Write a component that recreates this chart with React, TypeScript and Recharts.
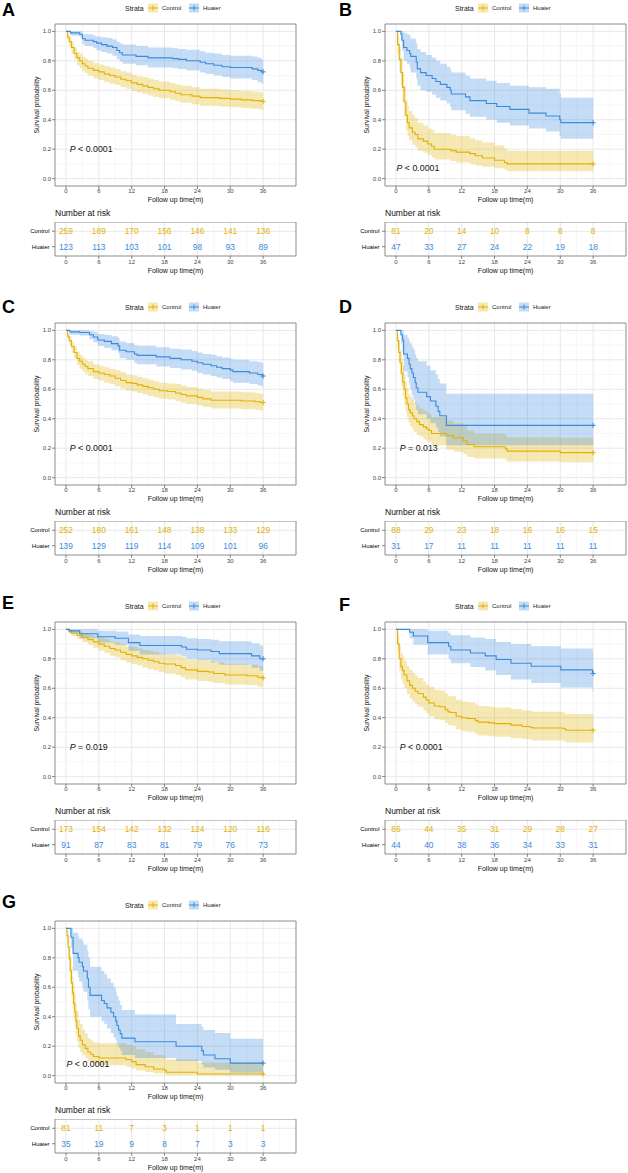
import React from "react";
import { Area, CartesianGrid, ComposedChart, Line, ReferenceArea, Scatter, XAxis, YAxis } from "recharts";

// [time (months), survival, lower CI, upper CI]
type KmPoint = [number, number, number, number];

const CONTROL = "#E2B200";
const HUAIER = "#3A8ADD";
const FONT = "'Liberation Sans', Arial, Helvetica, sans-serif";

const timeTicks = [0, 6, 12, 18, 24, 30, 36];
const timeMinor = [3, 9, 15, 21, 27, 33, 39];
const probTicks = [0, 0.2, 0.4, 0.6, 0.8, 1];
const probMinor = [0.1, 0.3, 0.5, 0.7, 0.9];
const strata = ["Control", "Huaier"];

const aControl: KmPoint[] = [
  [0, 1, 1, 1], [0.3, 0.96, 0.94, 0.98], [0.6, 0.93, 0.9, 0.96], [1, 0.89, 0.85, 0.93], [1.5, 0.85, 0.81, 0.89],
  [2, 0.82, 0.77, 0.86], [2.5, 0.8, 0.75, 0.85], [3, 0.78, 0.73, 0.83], [3.5, 0.765, 0.715, 0.815], [4, 0.75, 0.7, 0.8],
  [5, 0.735, 0.68, 0.785], [6, 0.725, 0.67, 0.775], [7, 0.71, 0.655, 0.765], [8, 0.7, 0.645, 0.755], [9, 0.69, 0.635, 0.745],
  [10, 0.675, 0.62, 0.73], [11, 0.665, 0.61, 0.72], [12, 0.65, 0.595, 0.705], [13, 0.64, 0.585, 0.695], [14, 0.63, 0.575, 0.69],
  [15, 0.62, 0.565, 0.68], [16, 0.61, 0.555, 0.67], [17, 0.6, 0.545, 0.66], [19, 0.59, 0.535, 0.65], [20, 0.58, 0.525, 0.64],
  [21, 0.57, 0.515, 0.63], [23, 0.56, 0.505, 0.62], [24.5, 0.55, 0.495, 0.61], [28, 0.545, 0.49, 0.605], [30, 0.54, 0.485, 0.6],
  [32, 0.535, 0.48, 0.595], [34, 0.53, 0.475, 0.59], [35.5, 0.525, 0.47, 0.585], [36, 0.525, 0.47, 0.585],
];
const aHuaier: KmPoint[] = [
  [0, 1, 1, 1], [0.8, 0.99, 0.97, 1], [2.5, 0.98, 0.96, 1], [3, 0.95, 0.91, 0.98], [3.5, 0.94, 0.9, 0.98],
  [5, 0.93, 0.885, 0.97], [5.6, 0.92, 0.87, 0.965], [6.5, 0.91, 0.86, 0.96], [7.5, 0.9, 0.85, 0.955], [8.5, 0.89, 0.835, 0.945],
  [9.3, 0.87, 0.81, 0.93], [9.8, 0.855, 0.795, 0.92], [10.3, 0.84, 0.78, 0.91], [12.8, 0.83, 0.77, 0.9], [15, 0.82, 0.755, 0.89],
  [19.5, 0.815, 0.75, 0.885], [20.5, 0.81, 0.745, 0.88], [22, 0.8, 0.735, 0.875], [24.5, 0.79, 0.72, 0.865], [25.5, 0.78, 0.71, 0.855],
  [27, 0.77, 0.7, 0.85], [28.5, 0.76, 0.69, 0.84], [30, 0.755, 0.68, 0.835], [34, 0.745, 0.67, 0.83], [35, 0.735, 0.655, 0.82],
  [35.7, 0.725, 0.645, 0.81], [36, 0.725, 0.645, 0.81],
];

const bControl: KmPoint[] = [
  [0, 1, 1, 1], [0.3, 0.91, 0.85, 0.97], [0.6, 0.81, 0.73, 0.9], [0.9, 0.72, 0.63, 0.82], [1.2, 0.62, 0.52, 0.72],
  [1.5, 0.52, 0.42, 0.63], [1.8, 0.43, 0.33, 0.54], [2.1, 0.38, 0.29, 0.49], [2.4, 0.345, 0.26, 0.46], [3, 0.315, 0.23, 0.43],
  [3.5, 0.3, 0.215, 0.41], [4, 0.27, 0.19, 0.38], [5, 0.255, 0.175, 0.36], [5.8, 0.235, 0.16, 0.34], [6.5, 0.22, 0.145, 0.33],
  [7, 0.2, 0.13, 0.31], [10, 0.19, 0.12, 0.3], [11, 0.18, 0.11, 0.29], [13.5, 0.17, 0.1, 0.275], [14.5, 0.155, 0.09, 0.26],
  [15.8, 0.14, 0.08, 0.245], [18, 0.125, 0.07, 0.225], [19.8, 0.11, 0.06, 0.205], [20.3, 0.1, 0.05, 0.19], [36, 0.1, 0.05, 0.19],
];
const bHuaier: KmPoint[] = [
  [0, 1, 1, 1], [0.9, 0.98, 0.94, 1], [1.1, 0.94, 0.87, 1], [1.4, 0.89, 0.8, 0.99], [2, 0.87, 0.78, 0.98],
  [2.5, 0.85, 0.75, 0.97], [2.7, 0.83, 0.72, 0.95], [3.7, 0.79, 0.68, 0.92], [3.9, 0.745, 0.63, 0.88], [4.5, 0.72, 0.6, 0.86],
  [5.5, 0.7, 0.59, 0.84], [6.6, 0.68, 0.57, 0.82], [7.3, 0.66, 0.55, 0.8], [8.1, 0.64, 0.53, 0.78], [9.3, 0.62, 0.51, 0.76],
  [9.9, 0.6, 0.49, 0.74], [10.1, 0.575, 0.465, 0.72], [12.7, 0.555, 0.44, 0.7], [13.5, 0.53, 0.42, 0.68], [16.5, 0.51, 0.4, 0.665],
  [18.4, 0.49, 0.38, 0.65], [20.8, 0.47, 0.36, 0.63], [24.3, 0.445, 0.34, 0.62], [27.4, 0.425, 0.32, 0.61], [29.9, 0.4, 0.29, 0.575],
  [30.1, 0.38, 0.27, 0.55], [36, 0.38, 0.27, 0.55],
];

const cControl: KmPoint[] = [
  [0, 1, 1, 1], [0.3, 0.96, 0.94, 0.98], [0.6, 0.93, 0.9, 0.96], [1, 0.89, 0.85, 0.925], [1.5, 0.85, 0.81, 0.89],
  [2, 0.81, 0.765, 0.855], [2.5, 0.79, 0.74, 0.835], [3, 0.77, 0.72, 0.815], [3.5, 0.755, 0.705, 0.8], [4, 0.74, 0.69, 0.79],
  [5, 0.72, 0.67, 0.77], [6, 0.71, 0.66, 0.76], [7, 0.7, 0.645, 0.75], [8, 0.69, 0.635, 0.74], [9, 0.675, 0.62, 0.73],
  [10, 0.66, 0.605, 0.715], [11, 0.645, 0.59, 0.7], [12, 0.64, 0.585, 0.695], [13, 0.63, 0.575, 0.685], [14, 0.62, 0.565, 0.675],
  [15, 0.61, 0.555, 0.665], [16, 0.6, 0.545, 0.655], [17, 0.59, 0.535, 0.645], [18.5, 0.585, 0.53, 0.64], [20, 0.575, 0.52, 0.635],
  [21, 0.565, 0.51, 0.625], [22, 0.555, 0.5, 0.615], [24, 0.545, 0.49, 0.605], [25, 0.535, 0.48, 0.595], [26.5, 0.525, 0.47, 0.585],
  [32, 0.52, 0.465, 0.58], [34.5, 0.515, 0.46, 0.575], [35.5, 0.51, 0.455, 0.57], [36, 0.51, 0.455, 0.57],
];
const cHuaier: KmPoint[] = [
  [0, 1, 1, 1], [0.7, 0.99, 0.97, 1], [2.5, 0.985, 0.965, 1], [4.3, 0.97, 0.94, 0.995], [5, 0.955, 0.92, 0.99],
  [5.8, 0.935, 0.895, 0.975], [7, 0.925, 0.88, 0.97], [8.3, 0.91, 0.865, 0.96], [9.5, 0.895, 0.845, 0.95], [9.8, 0.865, 0.81, 0.925],
  [11, 0.855, 0.8, 0.915], [12.5, 0.84, 0.78, 0.9], [13, 0.83, 0.77, 0.895], [16.5, 0.82, 0.755, 0.885], [19, 0.81, 0.745, 0.875],
  [21, 0.8, 0.735, 0.87], [23, 0.79, 0.725, 0.86], [24, 0.78, 0.71, 0.85], [25, 0.77, 0.7, 0.84], [26.5, 0.76, 0.69, 0.835],
  [27.5, 0.75, 0.68, 0.825], [28.5, 0.74, 0.67, 0.815], [30, 0.73, 0.655, 0.805], [30.5, 0.72, 0.645, 0.8], [33.5, 0.71, 0.635, 0.79],
  [35, 0.7, 0.625, 0.785], [35.8, 0.69, 0.615, 0.775], [36, 0.69, 0.615, 0.775],
];

const dControl: KmPoint[] = [
  [0, 1, 1, 1], [0.25, 0.93, 0.88, 0.98], [0.5, 0.85, 0.78, 0.93], [0.75, 0.78, 0.7, 0.87], [1, 0.71, 0.62, 0.81],
  [1.25, 0.65, 0.56, 0.76], [1.5, 0.6, 0.5, 0.7], [1.75, 0.54, 0.45, 0.65], [2, 0.5, 0.41, 0.61], [2.3, 0.46, 0.37, 0.57],
  [2.6, 0.44, 0.35, 0.55], [3, 0.42, 0.33, 0.53], [3.3, 0.4, 0.31, 0.51], [3.8, 0.38, 0.29, 0.49], [4.3, 0.36, 0.28, 0.47],
  [5, 0.345, 0.26, 0.455], [5.6, 0.33, 0.25, 0.44], [6, 0.32, 0.24, 0.43], [6.5, 0.3, 0.22, 0.41], [9.2, 0.285, 0.19, 0.39],
  [10.5, 0.27, 0.175, 0.37], [12.3, 0.25, 0.16, 0.35], [13, 0.225, 0.14, 0.32], [14.3, 0.21, 0.13, 0.3], [20, 0.195, 0.12, 0.285],
  [20.3, 0.18, 0.11, 0.275], [30, 0.17, 0.105, 0.27], [36, 0.17, 0.105, 0.27],
];
const dHuaier: KmPoint[] = [
  [0, 1, 1, 1], [0.9, 0.97, 0.91, 1], [1.2, 0.935, 0.85, 1], [1.4, 0.84, 0.72, 0.97], [2.1, 0.81, 0.68, 0.95],
  [2.4, 0.77, 0.63, 0.93], [2.6, 0.74, 0.6, 0.91], [2.9, 0.71, 0.56, 0.89], [3.2, 0.68, 0.53, 0.87], [3.5, 0.645, 0.5, 0.84],
  [3.7, 0.61, 0.46, 0.81], [4, 0.58, 0.43, 0.79], [5.6, 0.55, 0.4, 0.76], [6.3, 0.52, 0.37, 0.73], [7.3, 0.485, 0.34, 0.7],
  [7.7, 0.45, 0.31, 0.67], [8, 0.42, 0.28, 0.64], [9.2, 0.355, 0.22, 0.57], [36, 0.355, 0.22, 0.57],
];

const eControl: KmPoint[] = [
  [0, 1, 1, 1], [0.5, 0.99, 0.975, 1], [1, 0.975, 0.955, 0.99], [2, 0.96, 0.935, 0.985], [3, 0.945, 0.915, 0.975],
  [4, 0.93, 0.895, 0.965], [5, 0.915, 0.875, 0.955], [6, 0.9, 0.855, 0.945], [7, 0.885, 0.84, 0.935], [8, 0.87, 0.82, 0.92],
  [9, 0.86, 0.81, 0.91], [10, 0.845, 0.79, 0.9], [11, 0.83, 0.775, 0.885], [12, 0.82, 0.765, 0.88], [13, 0.81, 0.755, 0.87],
  [14, 0.8, 0.74, 0.86], [15, 0.79, 0.73, 0.855], [16, 0.78, 0.72, 0.845], [17, 0.77, 0.71, 0.835], [18, 0.765, 0.7, 0.83],
  [20, 0.755, 0.69, 0.825], [21, 0.74, 0.675, 0.81], [21.8, 0.725, 0.66, 0.795], [24, 0.715, 0.65, 0.79], [26, 0.71, 0.645, 0.785],
  [27, 0.7, 0.635, 0.775], [29, 0.69, 0.625, 0.765], [33, 0.685, 0.62, 0.76], [35, 0.675, 0.61, 0.75], [36, 0.67, 0.605, 0.745],
];
const eHuaier: KmPoint[] = [
  [0, 1, 1, 1], [0.6, 0.99, 0.97, 1], [2.5, 0.97, 0.94, 1], [5.8, 0.95, 0.91, 0.99], [9, 0.94, 0.895, 0.985],
  [11.4, 0.91, 0.855, 0.965], [13.5, 0.89, 0.83, 0.955], [21.1, 0.88, 0.815, 0.95], [22, 0.865, 0.8, 0.94], [24, 0.86, 0.79, 0.935],
  [26.5, 0.85, 0.775, 0.93], [28, 0.835, 0.76, 0.92], [33.9, 0.82, 0.74, 0.905], [35.4, 0.8, 0.72, 0.89], [36, 0.8, 0.72, 0.89],
];

const fControl: KmPoint[] = [
  [0, 1, 1, 1], [0.3, 0.9, 0.84, 0.96], [0.6, 0.8, 0.72, 0.89], [0.9, 0.745, 0.66, 0.84], [1.2, 0.72, 0.63, 0.82],
  [1.5, 0.69, 0.6, 0.79], [2, 0.65, 0.56, 0.75], [2.5, 0.62, 0.53, 0.725], [3, 0.6, 0.51, 0.705], [3.5, 0.58, 0.49, 0.685],
  [4, 0.565, 0.475, 0.67], [5, 0.54, 0.45, 0.645], [5.5, 0.52, 0.43, 0.625], [6, 0.5, 0.41, 0.61], [7, 0.48, 0.39, 0.59],
  [8, 0.475, 0.385, 0.585], [9, 0.455, 0.365, 0.565], [9.5, 0.44, 0.35, 0.55], [10, 0.435, 0.345, 0.545], [11, 0.41, 0.32, 0.52],
  [12, 0.4, 0.31, 0.51], [13, 0.395, 0.305, 0.505], [14.5, 0.38, 0.29, 0.49], [15, 0.37, 0.28, 0.48], [17, 0.365, 0.275, 0.475],
  [18, 0.36, 0.27, 0.47], [21, 0.35, 0.26, 0.46], [23, 0.34, 0.255, 0.45], [24.5, 0.335, 0.25, 0.445], [25, 0.33, 0.245, 0.44],
  [30.5, 0.325, 0.24, 0.435], [31, 0.315, 0.232, 0.425], [36, 0.315, 0.232, 0.425],
];
const fHuaier: KmPoint[] = [
  [0, 1, 1, 1], [2.5, 0.98, 0.94, 1], [3.2, 0.955, 0.895, 1], [5.8, 0.91, 0.83, 0.99], [9.6, 0.885, 0.8, 0.975],
  [10, 0.86, 0.77, 0.96], [13.6, 0.84, 0.745, 0.945], [16.3, 0.82, 0.72, 0.935], [18.3, 0.795, 0.69, 0.915], [21, 0.77, 0.66, 0.9],
  [24.7, 0.75, 0.635, 0.885], [30.1, 0.725, 0.605, 0.87], [35.9, 0.7, 0.575, 0.85], [36, 0.7, 0.575, 0.85],
];

const gControl: KmPoint[] = [
  [0, 1, 1, 1], [0.2, 0.95, 0.9, 0.99], [0.4, 0.87, 0.8, 0.94], [0.6, 0.79, 0.71, 0.88], [0.8, 0.71, 0.62, 0.81],
  [1, 0.63, 0.53, 0.74], [1.2, 0.56, 0.46, 0.67], [1.4, 0.49, 0.39, 0.61], [1.6, 0.43, 0.33, 0.55], [1.8, 0.37, 0.28, 0.49],
  [2, 0.32, 0.23, 0.44], [2.3, 0.27, 0.19, 0.38], [2.6, 0.24, 0.16, 0.35], [3, 0.21, 0.14, 0.31], [3.5, 0.185, 0.12, 0.285],
  [4, 0.16, 0.1, 0.255], [4.5, 0.145, 0.09, 0.24], [5, 0.13, 0.08, 0.225], [6, 0.12, 0.07, 0.22], [11, 0.11, 0.06, 0.21],
  [12, 0.095, 0.05, 0.2], [12.8, 0.075, 0.035, 0.18], [14.5, 0.06, 0.025, 0.16], [16, 0.045, 0.015, 0.14], [18, 0.035, 0.01, 0.13],
  [18.3, 0.023, 0.005, 0.11], [24, 0.011, 0.002, 0.09], [36, 0.011, 0.002, 0.09],
];
const gHuaier: KmPoint[] = [
  [0, 1, 1, 1], [0.9, 0.94, 0.87, 1], [1.3, 0.83, 0.71, 0.97], [2.2, 0.8, 0.67, 0.95], [2.4, 0.77, 0.64, 0.93],
  [3, 0.74, 0.6, 0.91], [3.2, 0.71, 0.57, 0.89], [3.9, 0.66, 0.51, 0.85], [4.1, 0.6, 0.45, 0.8], [4.4, 0.545, 0.4, 0.74],
  [6.5, 0.51, 0.37, 0.71], [7, 0.49, 0.35, 0.69], [7.5, 0.46, 0.32, 0.66], [8.2, 0.43, 0.29, 0.63], [8.7, 0.4, 0.26, 0.6],
  [9.1, 0.37, 0.24, 0.57], [9.3, 0.34, 0.21, 0.54], [9.6, 0.31, 0.19, 0.51], [9.9, 0.285, 0.17, 0.48], [10.2, 0.255, 0.14, 0.445],
  [12.6, 0.23, 0.12, 0.415], [20.1, 0.2, 0.1, 0.35], [24.8, 0.17, 0.075, 0.33], [25.1, 0.14, 0.055, 0.31], [27.2, 0.115, 0.04, 0.29],
  [30, 0.085, 0.02, 0.25], [36, 0.085, 0.02, 0.25],
];

// number at risk at 0, 6, ..., 36 months
const aRiskControl = [259, 189, 170, 156, 146, 141, 136];
const aRiskHuaier = [123, 113, 103, 101, 98, 93, 89];
const bRiskControl = [81, 20, 14, 10, 8, 8, 8];
const bRiskHuaier = [47, 33, 27, 24, 22, 19, 18];
const cRiskControl = [252, 180, 161, 148, 138, 133, 129];
const cRiskHuaier = [139, 129, 119, 114, 109, 101, 96];
const dRiskControl = [88, 29, 23, 18, 16, 16, 15];
const dRiskHuaier = [31, 17, 11, 11, 11, 11, 11];
const eRiskControl = [173, 154, 142, 132, 124, 120, 116];
const eRiskHuaier = [91, 87, 83, 81, 79, 76, 73];
const fRiskControl = [86, 44, 35, 31, 29, 28, 27];
const fRiskHuaier = [44, 40, 38, 36, 34, 33, 31];
const gRiskControl = [81, 11, 7, 3, 1, 1, 1];
const gRiskHuaier = [35, 19, 9, 8, 7, 3, 3];

const panels = [
  { id: "A", control: aControl, huaier: aHuaier, riskControl: aRiskControl, riskHuaier: aRiskHuaier, p: "< 0.0001", pAt: [0.7, 0.2] },
  { id: "B", control: bControl, huaier: bHuaier, riskControl: bRiskControl, riskHuaier: bRiskHuaier, p: "< 0.0001", pAt: [0.1, 0.075] },
  { id: "C", control: cControl, huaier: cHuaier, riskControl: cRiskControl, riskHuaier: cRiskHuaier, p: "< 0.0001", pAt: [0.7, 0.2] },
  { id: "D", control: dControl, huaier: dHuaier, riskControl: dRiskControl, riskHuaier: dRiskHuaier, p: "= 0.013", pAt: [0.7, 0.2] },
  { id: "E", control: eControl, huaier: eHuaier, riskControl: eRiskControl, riskHuaier: eRiskHuaier, p: "= 0.019", pAt: [0.7, 0.2] },
  { id: "F", control: fControl, huaier: fHuaier, riskControl: fRiskControl, riskHuaier: fRiskHuaier, p: "< 0.0001", pAt: [0.7, 0.2] },
  { id: "G", control: gControl, huaier: gHuaier, riskControl: gRiskControl, riskHuaier: gRiskHuaier, p: "< 0.0001", pAt: [0.1, 0.08] },
];

// where each panel sits on the page
const layout = [
  { left: 0, top: 0, letterX: 2, letterTop: 3 },
  { left: 330, top: 0, letterX: 9, letterTop: 3 },
  { left: 0, top: 299, letterX: 2, letterTop: 1 },
  { left: 330, top: 299, letterX: 9, letterTop: 1 },
  { left: 0, top: 598, letterX: 2, letterTop: -2 },
  { left: 330, top: 598, letterX: 9, letterTop: 0 },
  { left: 0, top: 897, letterX: 2, letterTop: -2 },
];

const GRID_MAJOR = "#e8e8e8";
const GRID_MINOR = "#f2f2f2";
const BORDER = "#8c8c8c";
const TICK = { fontSize: 6, fill: "#444" };
const TICK_LINE = { stroke: "#555", strokeWidth: 0.7 };

function mergeCurves(control: KmPoint[], huaier: KmPoint[]) {
  const rows = new Map<number, any>();
  const put = (pts: KmPoint[], key: string) =>
    pts.forEach(([t, s, lo, hi]) => {
      const row = rows.get(t) ?? { t };
      row[key] = s;
      row[key + "Lo"] = lo;
      row[key + "Hi"] = hi;
      rows.set(t, row);
    });
  put(control, "c");
  put(huaier, "h");
  return [...rows.values()].sort((a, b) => a.t - b.t);
}

const band = (key: string) => (d: any) => (d[key + "Lo"] == null ? null : [d[key + "Lo"], d[key + "Hi"]]);

const censorShape = (color: string) => (props: any) => (
  <g>
    <line x1={props.cx - 2.6} x2={props.cx + 2.6} y1={props.cy} y2={props.cy} stroke={color} strokeWidth={1} />
    <line x1={props.cx} x2={props.cx} y1={props.cy - 2.6} y2={props.cy + 2.6} stroke={color} strokeWidth={1} />
  </g>
);

const countShape = (color: string) => (props: any) => (
  <text x={props.cx} y={props.cy + 3} textAnchor="middle" fontSize={8.4} fill={color}>
    {props.payload.n}
  </text>
);

const pShape = (p: string) => (props: any) => (
  <text x={props.cx} y={props.cy + 3.2} fontSize={8.8} fill="#111">
    <tspan fontStyle="italic">P</tspan> {p}
  </text>
);

const xTitle = (center: number) => (props: any) => {
  const vb = props.viewBox;
  return (
    <text x={vb.x + vb.width / 2} y={vb.y + center + 2.5} textAnchor="middle" fontSize={7} fill="#111">
      Follow up time(m)
    </text>
  );
};

const yTitle = (props: any) => {
  const vb = props.viewBox;
  const x = 37;
  const y = vb.y + vb.height / 2;
  return (
    <text x={x} y={y + 2.4} transform={`rotate(-90 ${x} ${y})`} textAnchor="middle" fontSize={6.8} fill="#111">
      Survival probability
    </text>
  );
};

function KmChart({ panel }: { panel: (typeof panels)[number] }) {
  const table = mergeCurves(panel.control, panel.huaier);
  const lastC = panel.control[panel.control.length - 1];
  const lastH = panel.huaier[panel.huaier.length - 1];
  return (
    <ComposedChart width={298} height={205} data={table} margin={{ top: 24, right: 2, bottom: 0, left: 0 }}>
      <CartesianGrid stroke={GRID_MINOR} strokeWidth={0.6} verticalValues={timeMinor} horizontalValues={probMinor} />
      <CartesianGrid stroke={GRID_MAJOR} strokeWidth={1} verticalValues={timeTicks} horizontalValues={probTicks} />
      <XAxis
        dataKey="t"
        type="number"
        domain={[-2, 42]}
        ticks={timeTicks}
        allowDataOverflow
        axisLine={false}
        tickLine={TICK_LINE}
        tickSize={3}
        tickMargin={0}
        tick={TICK}
        height={19}
        label={{ content: xTitle(13) }}
      />
      <YAxis
        type="number"
        domain={[-0.05, 1.05]}
        ticks={probTicks}
        allowDataOverflow
        tickFormatter={(v: number) => v.toFixed(1)}
        axisLine={false}
        tickLine={TICK_LINE}
        tickSize={3}
        tickMargin={1}
        tick={TICK}
        width={55}
        label={{ content: yTitle }}
      />
      <Area type="stepAfter" dataKey={band("c")} fill={CONTROL} fillOpacity={0.3} stroke="none" connectNulls dot={false} activeDot={false} isAnimationActive={false} />
      <Area type="stepAfter" dataKey={band("h")} fill={HUAIER} fillOpacity={0.3} stroke="none" connectNulls dot={false} activeDot={false} isAnimationActive={false} />
      <Line type="stepAfter" dataKey="c" stroke={CONTROL} strokeWidth={1.1} connectNulls dot={false} activeDot={false} isAnimationActive={false} />
      <Line type="stepAfter" dataKey="h" stroke={HUAIER} strokeWidth={1.1} connectNulls dot={false} activeDot={false} isAnimationActive={false} />
      <Scatter data={[{ t: lastC[0], s: lastC[1] }]} dataKey="s" shape={censorShape(CONTROL)} isAnimationActive={false} />
      <Scatter data={[{ t: lastH[0], s: lastH[1] }]} dataKey="s" shape={censorShape(HUAIER)} isAnimationActive={false} />
      <Scatter data={[{ t: panel.pAt[0], s: panel.pAt[1] }]} dataKey="s" shape={pShape(panel.p)} isAnimationActive={false} />
      <ReferenceArea x1={-2} x2={42} y1={-0.05} y2={1.05} fill="none" stroke={BORDER} strokeWidth={1} />
    </ComposedChart>
  );
}

function RiskTable({ panel }: { panel: (typeof panels)[number] }) {
  const rowControl = timeTicks.map((t, i) => ({ t, row: 2, n: panel.riskControl[i] }));
  const rowHuaier = timeTicks.map((t, i) => ({ t, row: 1, n: panel.riskHuaier[i] }));
  return (
    <ComposedChart width={298} height={54} margin={{ top: 0, right: 2, bottom: 0, left: 0 }}>
      <CartesianGrid stroke={GRID_MINOR} strokeWidth={0.6} horizontal={false} verticalValues={timeMinor} />
      <CartesianGrid stroke={GRID_MAJOR} strokeWidth={1} verticalValues={timeTicks} horizontalValues={[1, 2]} />
      <XAxis
        dataKey="t"
        type="number"
        domain={[-2, 42]}
        ticks={timeTicks}
        allowDataOverflow
        axisLine={false}
        tickLine={TICK_LINE}
        tickSize={3}
        tickMargin={1}
        tick={TICK}
        height={20}
        label={{ content: xTitle(14) }}
      />
      <YAxis
        type="number"
        domain={[0.4, 2.6]}
        ticks={[1, 2]}
        allowDataOverflow
        tickFormatter={(v: number) => (v === 2 ? strata[0] : strata[1])}
        axisLine={false}
        tickLine={TICK_LINE}
        tickSize={3}
        tickMargin={2.5}
        tick={{ fontSize: 6, fill: "#000" }}
        width={55}
      />
      <Scatter data={rowControl} dataKey="row" shape={countShape(CONTROL)} isAnimationActive={false} />
      <Scatter data={rowHuaier} dataKey="row" shape={countShape(HUAIER)} isAnimationActive={false} />
      <ReferenceArea x1={-2} x2={42} y1={0.4} y2={2.6} fill="none" stroke={BORDER} strokeWidth={1} />
    </ComposedChart>
  );
}

function LegendKey({ x, color }: { x: number; color: string }) {
  return (
    <g>
      <rect x={x} y={3.5} width={10} height={9} fill={color} fillOpacity={0.3} />
      <line x1={x} x2={x + 10} y1={8} y2={8} stroke={color} strokeWidth={1} />
      <line x1={x + 5} x2={x + 5} y1={5.5} y2={10.5} stroke={color} strokeWidth={1} />
    </g>
  );
}

function Panel({ panel, pos }: { panel: (typeof panels)[number]; pos: (typeof layout)[number] }) {
  return (
    <div style={{ position: "absolute", left: pos.left, top: pos.top, width: 298, height: 280 }}>
      <svg width={298} height={24} style={{ position: "absolute", left: 0, top: 0, overflow: "visible" }}>
        <text x={pos.letterX} y={pos.letterTop + 12.9} fontSize={18} fontWeight="bold" fill="#000">
          {panel.id}
        </text>
        <text x={125} y={10.5} fontSize={7} fill="#222">
          Strata
        </text>
        <LegendKey x={148} color={CONTROL} />
        <text x={162} y={10.2} fontSize={6} fill="#222">
          {strata[0]}
        </text>
        <LegendKey x={189} color={HUAIER} />
        <text x={203} y={10.2} fontSize={6} fill="#222">
          {strata[1]}
        </text>
      </svg>
      <div style={{ position: "absolute", left: 0, top: 0 }}>
        <KmChart panel={panel} />
      </div>
      <svg width={298} height={16} style={{ position: "absolute", left: 0, top: 205 }}>
        <text x={55} y={11} fontSize={8.5} fill="#111">
          Number at risk
        </text>
      </svg>
      <div style={{ position: "absolute", left: 0, top: 222 }}>
        <RiskTable panel={panel} />
      </div>
    </div>
  );
}

export default function App() {
  return (
    <div style={{ position: "relative", width: 628, height: 1173, background: "#fff", fontFamily: FONT, overflow: "hidden" }}>
      <style>{"body{margin:0}"}</style>
      {panels.map((panel, i) => (
        <Panel key={panel.id} panel={panel} pos={layout[i]} />
      ))}
    </div>
  );
}
